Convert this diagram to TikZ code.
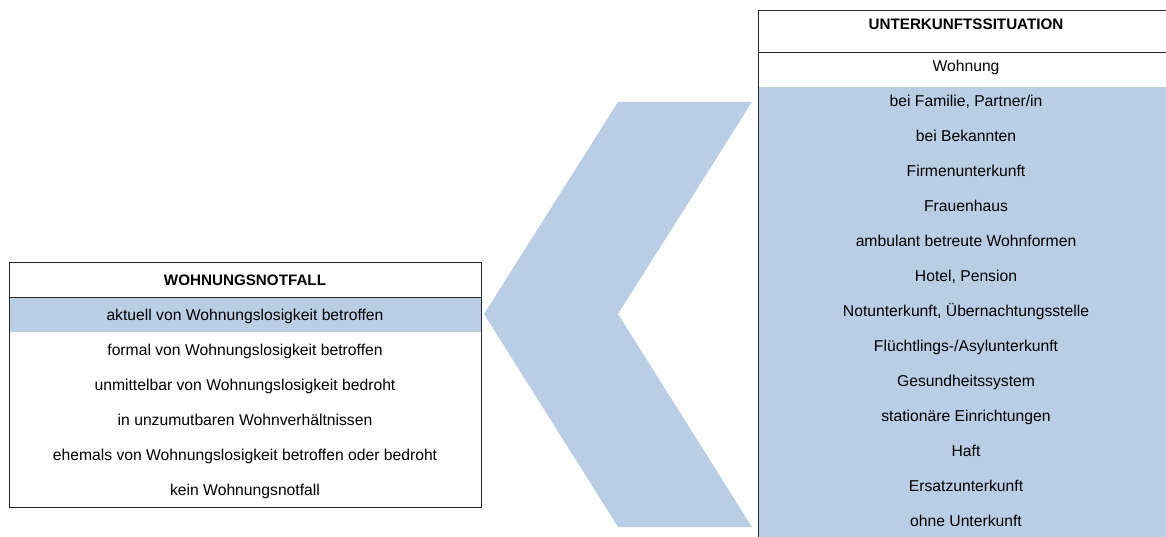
\documentclass[tikz,border=0pt]{standalone}
\usepackage{fontspec}
\setmainfont{Liberation Sans}
\usetikzlibrary{positioning}
\usepackage{xcolor}
\definecolor{lightblue}{HTML}{B9CDE5}
\tikzstyle{cell} = [%
  rectangle,
  minimum height=35pt,
  inner sep=0pt,
  outer sep=0pt,
  text height=12pt,
  text depth=0pt,
  align=center,
  text centered,
  font=\fontsize{15.7}{18}\selectfont
]

\begin{document}
\begin{tikzpicture}[%
  x=1pt, y=-1pt,
  every node/.style={%
    text=black
  },
  lcell/.style={cell, minimum width=472pt},
  rcell/.style={cell, minimum width=416pt, text depth=7.6pt},
  head/.style={font=\fontsize{15.2}{18}\selectfont\bfseries},
  hilite/.style={fill=lightblue},
  frame/.style={draw=black!85, line width=0.9pt}
]

  \useasboundingbox (0,0) rectangle (1166,537);

  % Chevron
  \coordinate (C1) at (618,102);
  \coordinate (C2) at (752,102);
  \coordinate (C3) at (618,314);
  \coordinate (C4) at (752,527);
  \coordinate (C5) at (618,527);
  \coordinate (C6) at (484,314);
  \fill[lightblue] (C1) -- (C2) -- (C3) -- (C4) -- (C5) -- (C6) -- cycle;

  % Left table
  \node[lcell,head,text depth=1pt] (L0) at (245,279.5) {WOHNUNGSNOTFALL};
  \node[lcell,hilite,below=0pt of L0] (L1) {aktuell von Wohnungslosigkeit betroffen};
  \node[lcell,below=0pt of L1] (L2) {formal von Wohnungslosigkeit betroffen};
  \node[lcell,below=0pt of L2] (L3) {unmittelbar von Wohnungslosigkeit bedroht};
  \node[lcell,below=0pt of L3] (L4) {in unzumutbaren Wohnverhältnissen};
  \node[lcell,below=0pt of L4] (L5) {ehemals von Wohnungslosigkeit betroffen oder bedroht};
  \node[lcell,below=0pt of L5] (L6) {kein Wohnungsnotfall};
  \draw[frame] (L0.north west) rectangle (L6.south east);
  \draw[frame] (L0.south west) -- (L0.south east);

  % Right table
  \node[rcell,head,minimum height=42pt,text height=11pt,text depth=14pt] (R0) at (966,31) {UNTERKUNFTSSITUATION};
  \node[rcell,below=0pt of R0] (R1) {Wohnung};
  \node[rcell,hilite,below=0pt of R1] (R2) {bei Familie, Partner/in};
  \node[rcell,hilite,below=0pt of R2] (R3) {bei Bekannten};
  \node[rcell,hilite,below=0pt of R3] (R4) {Firmenunterkunft};
  \node[rcell,hilite,below=0pt of R4] (R5) {Frauenhaus};
  \node[rcell,hilite,below=0pt of R5] (R6) {ambulant betreute Wohnformen};
  \node[rcell,hilite,below=0pt of R6] (R7) {Hotel, Pension};
  \node[rcell,hilite,below=0pt of R7] (R8) {Notunterkunft, Übernachtungsstelle};
  \node[rcell,hilite,below=0pt of R8] (R9) {Flüchtlings-/Asylunterkunft};
  \node[rcell,hilite,below=0pt of R9] (R10) {Gesundheitssystem};
  \node[rcell,hilite,below=0pt of R10] (R11) {stationäre Einrichtungen};
  \node[rcell,hilite,below=0pt of R11] (R12) {Haft};
  \node[rcell,hilite,below=0pt of R12] (R13) {Ersatzunterkunft};
  \node[rcell,hilite,below=0pt of R13] (R14) {ohne Unterkunft};
  \draw[frame] (R0.north west) rectangle (R14.south east);
  \draw[frame] (R0.south west) -- (R0.south east);

\end{tikzpicture}
\end{document}
